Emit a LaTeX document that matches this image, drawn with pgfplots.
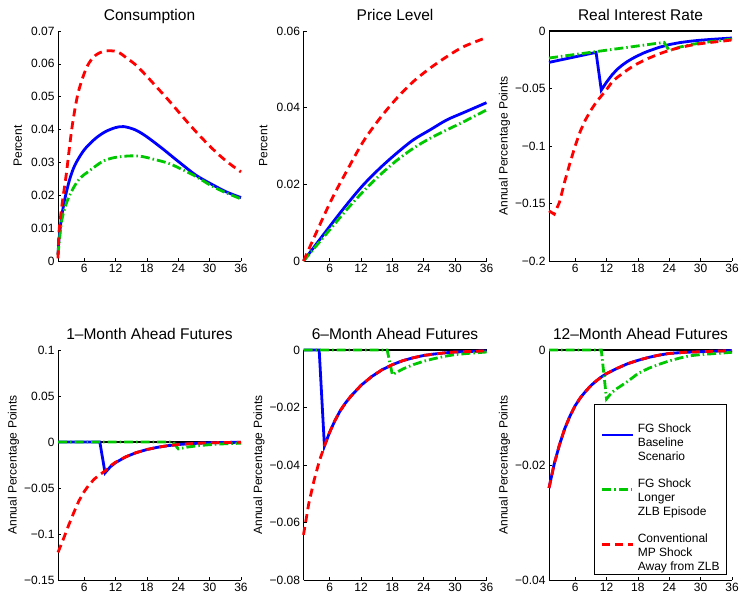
\documentclass[border=0pt]{standalone}
\usepackage{fontspec}
\setmainfont{Liberation Sans}
\usepackage{pgfplots}
\pgfplotsset{compat=1.18}

\definecolor{fgblue}{RGB}{0,0,255}
\definecolor{fggreen}{RGB}{0,200,0}
\definecolor{mpred}{RGB}{255,0,0}

\newcommand{\tickfont}{\fontsize{12bp}{14bp}\selectfont}
\newcommand{\titlefont}{\fontsize{15.5bp}{18bp}\selectfont}

\tikzset{
  fgbase/.style={fgblue, line width=2.8bp},
  fglong/.style={fggreen, line width=2.8bp, dash pattern=on 9bp off 3bp on 1.5bp off 3bp},
  mpshock/.style={mpred, line width=2.8bp, dash pattern=on 8bp off 5bp},
}
% legend entry: sample line just under the first of three text lines
\newcommand{\legitem}[5][0pt]{%
  \begin{tabular}[b]{@{}l@{\hspace{3bp}}l@{}}
  \rule{0pt}{#1}\tikz[baseline=0pt]\draw[#2] (0bp,-2.5bp) -- (31bp,-2.5bp); & #3\\
  & #4\\
  & #5
  \end{tabular}}

\pgfplotsset{
  irf/.style={
    scale only axis, width=183bp, height=230bp,
    xmin=1, xmax=36, xtick={6,12,18,24,30,36}, xticklabels={6,12,18,24,30,36},
    axis lines=left, axis line style={-, line width=0.8bp},
    tick align=inside, major tick length=3bp, tick style={line width=0.6bp, black},
    ticklabel style={font=\tickfont},
    title style={font=\titlefont, at={(0.5,1)}, anchor=base, yshift=5bp},
    ylabel style={font=\tickfont, at={(axis description cs:-0.219,0.5)}, anchor=center},
    clip=false, scaled y ticks=false,
  },
  zeroline/.style={black, line width=1.2bp, forget plot},
}

\begin{document}
\begin{tikzpicture}
\useasboundingbox (0,0) rectangle (741bp,596bp);

% --- Consumption
\begin{axis}[irf, at={(58bp,335bp)}, anchor=south west,
  title={Consumption}, ylabel={Percent},
  ymin=0, ymax=0.07, ytick={0,0.01,...,0.07},
  yticklabels={0,0.01,0.02,0.03,0.04,0.05,0.06,0.07}]
\addplot[fgbase, smooth] coordinates {(1,0.002) (1.2,0.0066) (1.7,0.0135) (2.35,0.0192) (3.3,0.0252) (4.3,0.0294) (6,0.0338) (8.1,0.0372) (10,0.0393) (12,0.0406) (13.6,0.0409) (15.8,0.0399) (17.9,0.0379) (20.9,0.0343) (24,0.0303) (27.3,0.0262) (30,0.0237) (33.1,0.0211) (36,0.0193)};
\addplot[fglong, smooth] coordinates {(1,0.0018) (1.3,0.0069) (1.8,0.013) (2.7,0.018) (3.9,0.0221) (5.2,0.0252) (6.8,0.0272) (9.4,0.0302) (11.3,0.0313) (13.2,0.0318) (15.2,0.032) (17.1,0.0318) (19.7,0.0308) (22.2,0.0297) (24.8,0.0278) (27.3,0.0258) (29.9,0.0233) (32.5,0.0212) (36,0.0189)};
\addplot[mpshock, smooth] coordinates {(1,0.0008) (1.2,0.009) (1.8,0.0175) (2.6,0.0266) (3.3,0.036) (3.9,0.043) (4.9,0.0515) (6.5,0.059) (8.1,0.0625) (10,0.0639) (12.3,0.0637) (14.2,0.0617) (16,0.0595) (18,0.0562) (20,0.0527) (22,0.0492) (24,0.0455) (26,0.0418) (28,0.0383) (30,0.035) (32,0.032) (34,0.0294) (36,0.0271)};
\end{axis}

% --- Price level
\begin{axis}[irf, at={(303.5bp,335bp)}, anchor=south west,
  title={Price Level}, ylabel={Percent},
  ymin=0, ymax=0.06, ytick={0,0.02,0.04,0.06},
  yticklabels={0,0.02,0.04,0.06}]
\addplot[fgbase, smooth] coordinates {(1,0) (6,0.009) (9.2,0.0146) (12.4,0.0198) (15.6,0.0242) (18.8,0.0281) (22,0.0316) (25.2,0.0342) (28.4,0.0368) (31.6,0.0387) (36,0.0413)};
\addplot[fglong, smooth] coordinates {(1,0) (6,0.0081) (9.2,0.0133) (12.4,0.0181) (15.6,0.0224) (18.8,0.0262) (22,0.0294) (25.2,0.032) (28.4,0.0342) (31.6,0.0363) (36,0.0394)};
\addplot[mpshock, smooth] coordinates {(1,0) (6,0.015) (9.2,0.0233) (12.4,0.0311) (15.6,0.0372) (18.8,0.0424) (22,0.0468) (25.2,0.0503) (28.4,0.0533) (31.6,0.0559) (36,0.0583)};
\end{axis}

% --- Real interest rate
\begin{axis}[irf, at={(549bp,335bp)}, anchor=south west,
  title={Real Interest Rate}, ylabel={Annual Percentage Points},
  ylabel style={at={(axis description cs:-0.243,0.5)}},
  ymin=-0.2, ymax=0, ytick={-0.2,-0.15,-0.1,-0.05,0},
  yticklabels={−0.2,−0.15,−0.1,−0.05,0}]
\addplot[zeroline] coordinates {(1,0) (36,0)};
\addplot[fgbase] coordinates {(1,-0.0273) (10,-0.0186) (11,-0.0514) (12,-0.0445) (13,-0.0385) (14,-0.0335) (15,-0.0297) (16,-0.0265) (17,-0.0238) (18,-0.0215) (19,-0.0193) (20,-0.0175) (22,-0.0143) (24,-0.0118) (26,-0.0101) (28,-0.0089) (30,-0.008) (32,-0.0073) (34,-0.0067) (36,-0.0061)};
\addplot[fglong] coordinates {(1,-0.0235) (23,-0.0099) (24,-0.0171) (26,-0.014) (28,-0.012) (30,-0.0104) (32,-0.0092) (34,-0.0081) (36,-0.007)};
\addplot[mpshock] coordinates {(1,-0.1564) (2,-0.1593) (3,-0.149) (4,-0.131) (5,-0.115) (6,-0.1) (7,-0.087) (8,-0.077) (9,-0.069) (10,-0.0621) (11,-0.0565) (12,-0.051) (13,-0.0447) (14,-0.0405) (15,-0.0372) (16,-0.0338) (17,-0.0308) (18,-0.0282) (19,-0.0259) (20,-0.0238) (22,-0.02) (24,-0.0168) (26,-0.0144) (28,-0.0125) (30,-0.011) (32,-0.0099) (34,-0.0089) (36,-0.0078)};
\end{axis}

% --- 1-month ahead futures
\begin{axis}[irf, at={(58bp,16bp)}, anchor=south west,
  title={1–Month Ahead Futures}, ylabel={Annual Percentage Points},
  ylabel style={at={(axis description cs:-0.243,0.5)}},
  ymin=-0.15, ymax=0.1, ytick={-0.15,-0.1,-0.05,0,0.05,0.1},
  yticklabels={−0.15,−0.1,−0.05,0,0.05,0.1}]
\addplot[zeroline] coordinates {(1,0) (36,0)};
\addplot[fgbase] coordinates {(1,0) (9,0) (10,-0.0335) (11,-0.027) (12,-0.0225) (14,-0.016) (16,-0.0115) (18,-0.0082) (20,-0.0058) (22,-0.004) (24,-0.0028) (26,-0.0019) (28,-0.0013) (30,-0.0009) (33,-0.0005) (36,-0.0003)};
\addplot[fglong] coordinates {(1,0) (23,0) (24,-0.0075) (26,-0.0053) (28,-0.0039) (30,-0.0029) (33,-0.0019) (36,-0.0013)};
\addplot[mpshock] coordinates {(1,-0.12) (2,-0.106) (3,-0.091) (4,-0.077) (5,-0.064) (6,-0.054) (7,-0.046) (8,-0.04) (9,-0.0355) (10,-0.0315) (11,-0.026) (12,-0.022) (14,-0.016) (16,-0.0115) (18,-0.0082) (20,-0.0058) (22,-0.004) (24,-0.0028) (26,-0.0019) (28,-0.0013) (30,-0.0009) (33,-0.0005) (36,-0.0003)};
\end{axis}

% --- 6-month ahead futures
\begin{axis}[irf, at={(303.5bp,16bp)}, anchor=south west,
  title={6–Month Ahead Futures}, ylabel={Annual Percentage Points},
  ylabel style={at={(axis description cs:-0.243,0.5)}},
  ymin=-0.08, ymax=0, ytick={-0.08,-0.06,-0.04,-0.02,0},
  yticklabels={−0.08,−0.06,−0.04,−0.02,0}]
\addplot[zeroline] coordinates {(1,0) (36,0)};
\addplot[fgbase] coordinates {(1,0) (4,0) (5,-0.0334) (6,-0.0286) (7,-0.0246) (8,-0.0212) (9,-0.0185) (10,-0.0162) (12,-0.0123) (14,-0.0093) (16,-0.0069) (18,-0.0051) (20,-0.0037) (22,-0.0027) (24,-0.0019) (26,-0.0014) (28,-0.001) (30,-0.0007) (33,-0.0005) (36,-0.0003)};
\addplot[fglong] coordinates {(1,0) (17,0) (18,-0.0086) (20,-0.0066) (22,-0.0051) (24,-0.0039) (26,-0.003) (28,-0.0022) (30,-0.0016) (33,-0.0011) (36,-0.0007)};
\addplot[mpshock] coordinates {(1,-0.0643) (2,-0.0535) (3,-0.0455) (4,-0.0388) (5,-0.0334) (6,-0.0286) (7,-0.0246) (8,-0.0212) (9,-0.0185) (10,-0.0162) (12,-0.0123) (14,-0.0093) (16,-0.0069) (18,-0.0051) (20,-0.0037) (22,-0.0027) (24,-0.0019) (26,-0.0014) (28,-0.001) (30,-0.0007) (33,-0.0005) (36,-0.0003)};
\end{axis}

% --- 12-month ahead futures (with legend)
\begin{axis}[irf, at={(549bp,16bp)}, anchor=south west,
  title={12–Month Ahead Futures}, ylabel={Annual Percentage Points},
  ylabel style={at={(axis description cs:-0.243,0.5)}},
  ymin=-0.04, ymax=0, ytick={-0.04,-0.02,0},
  yticklabels={−0.04,−0.02,0},
  legend style={at={(0.9727,0.0217)}, anchor=south east, draw=black, line width=0.8bp,
    fill=white, font=\tickfont, cells={anchor=base west, inner sep=0pt},
    row sep=11.5bp, column sep=0pt, inner xsep=5bp, inner ysep=1bp},
  legend image code/.code={}]
\addplot[zeroline] coordinates {(1,0) (36,0)};
\addplot[fgbase] coordinates {(1,-0.024) (2,-0.0198) (3,-0.0165) (4,-0.0137) (5,-0.0115) (6,-0.0097) (7,-0.0083) (8,-0.0072) (9,-0.0062) (10,-0.0054) (11,-0.0047) (12,-0.0041) (14,-0.0032) (16,-0.0024) (18,-0.0018) (20,-0.0013) (22,-0.0009) (24,-0.0006) (27,-0.0004) (30,-0.0003) (33,-0.0002) (36,-0.0001)};
\addlegendentry{\legitem[25bp]{fgbase}{FG Shock}{Baseline}{Scenario}}
\addplot[fglong] coordinates {(1,0) (11,0) (12,-0.0085) (13,-0.0074) (14,-0.0067) (16,-0.0055) (18,-0.0041) (20,-0.0032) (22,-0.0025) (24,-0.0019) (26,-0.0014) (28,-0.001) (30,-0.0008) (33,-0.0006) (36,-0.0004)};
\addlegendentry{\legitem{fglong}{FG Shock}{Longer}{ZLB Episode}}
\addplot[mpshock] coordinates {(1,-0.024) (2,-0.0198) (3,-0.0165) (4,-0.0137) (5,-0.0115) (6,-0.0097) (7,-0.0083) (8,-0.0072) (9,-0.0062) (10,-0.0054) (11,-0.0047) (12,-0.0041) (14,-0.0032) (16,-0.0024) (18,-0.0018) (20,-0.0013) (22,-0.0009) (24,-0.0006) (27,-0.0004) (30,-0.0003) (33,-0.0002) (36,-0.0001)};
\addlegendentry{\legitem{mpshock}{Conventional}{MP Shock}{Away from ZLB}}
\end{axis}
\end{tikzpicture}
\end{document}
